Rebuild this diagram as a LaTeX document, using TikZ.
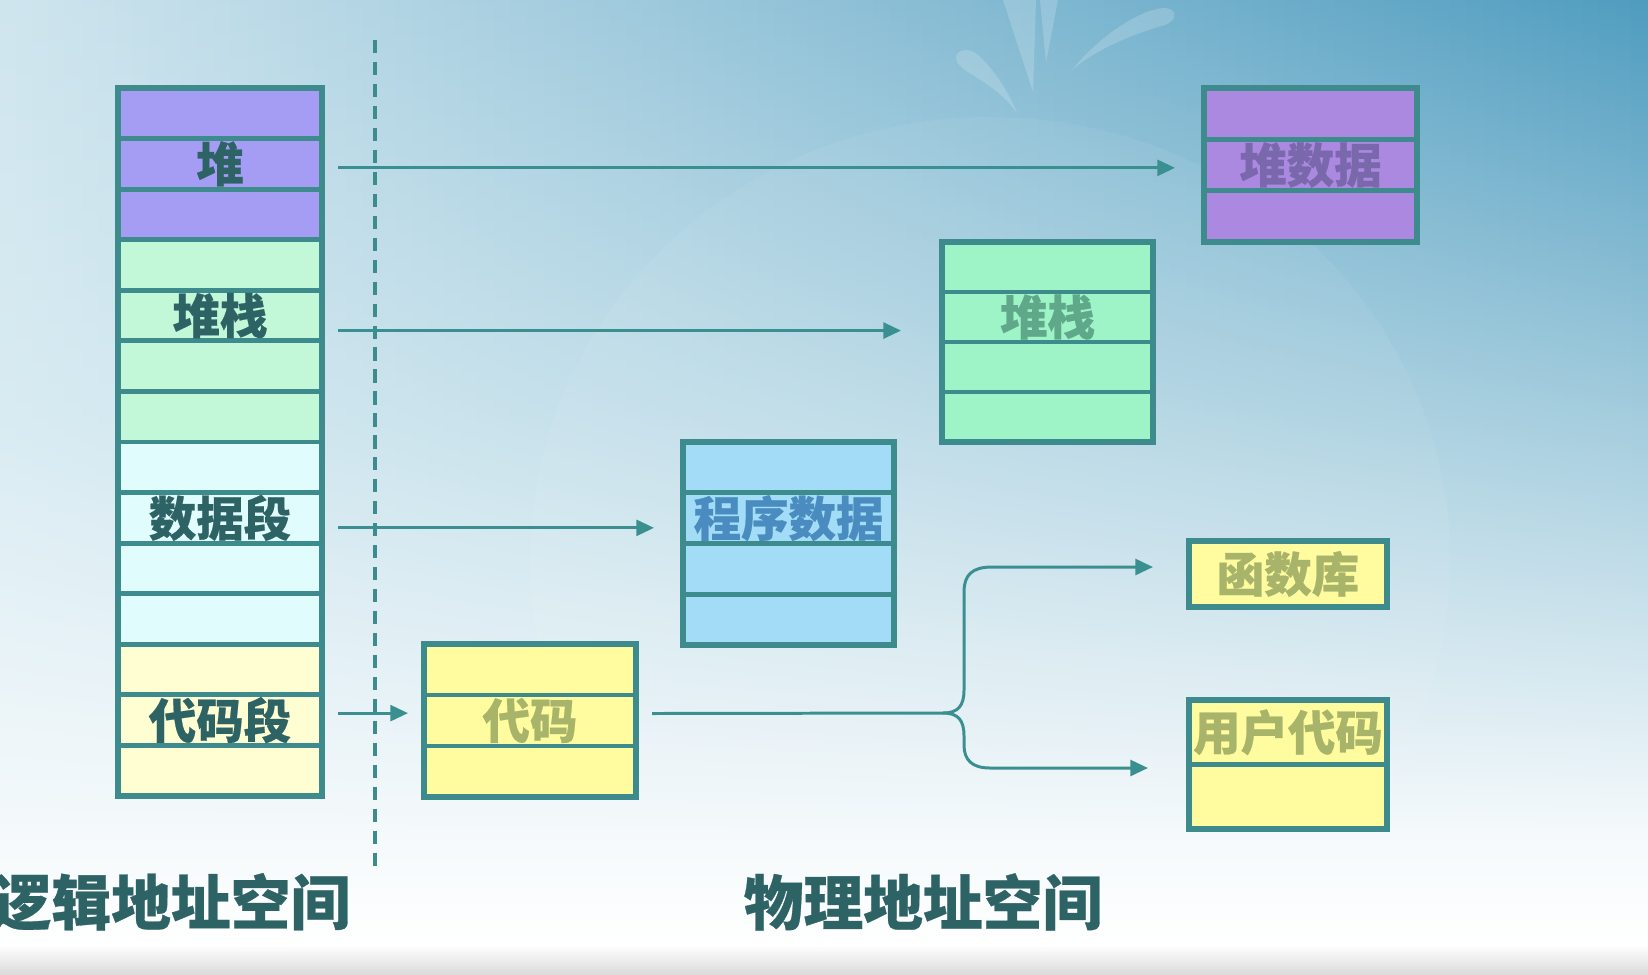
\documentclass[tikz,border=0pt]{standalone}
\usepackage{fontspec}
\newfontfamily\cjk{Noto Sans CJK SC}[BoldFeatures={FakeBold=0.5}]
\usetikzlibrary{arrows.meta}
\definecolor{bordc}{HTML}{3D8B8C}
\definecolor{purL}{HTML}{A59DF3}
\definecolor{grnL}{HTML}{C2F8D8}
\definecolor{cyaL}{HTML}{E0FCFD}
\definecolor{yelL}{HTML}{FFFDD2}
\definecolor{purR}{HTML}{AC89E1}
\definecolor{grnR}{HTML}{9EF3C7}
\definecolor{bluR}{HTML}{A2DCF7}
\definecolor{yelR}{HTML}{FFFC9F}
\definecolor{txtL}{HTML}{2E6366}
\definecolor{arrc}{HTML}{3A9090}
\definecolor{txtHeap}{HTML}{7A68AC}
\definecolor{txtStack}{HTML}{5FA88A}
\definecolor{txtData}{HTML}{4A8CC0}
\definecolor{txtCode}{HTML}{A7B46A}
\definecolor{topL}{HTML}{CFE5EE}
\definecolor{topR}{HTML}{4F9CBF}
\definecolor{midL}{HTML}{D8EBF2}
\definecolor{midR}{HTML}{A3CCDD}
\definecolor{botc}{HTML}{F4F9FB}
\def\pxu{0.02cm}
\tikzset{
  cell/.style={draw=bordc, line width=2.7pt, inner sep=0pt, outer sep=0pt},
  outerb/.style={draw=bordc, line width=3pt},
  lbl/.style={font=\cjk\bfseries\fontsize{27pt}{27pt}\selectfont, text=txtL, inner sep=0pt},
  biglbl/.style={font=\cjk\bfseries\fontsize{34pt}{34pt}\selectfont, text=txtL, inner sep=0pt},
  arr/.style={draw=arrc, line width=1.7pt, -{Triangle[length=10pt,width=9pt]}},
  conn/.style={draw=arrc, line width=1.7pt},
  divline/.style={draw=bordc, line width=2pt, dash pattern=on 7.5pt off 5pt},
  splash/.style={fill=white, opacity=0.18},
}
\begin{document}
\begin{tikzpicture}[x=0.02cm,y=-0.02cm]
\useasboundingbox (0,0) rectangle (1648,974);
% background
\foreach \i in {0,...,99}{
  \pgfmathtruncatemacro\p{100*\i/99}
  \shade[top color=topR!\p!topL, bottom color=botc, middle color=midR!\p!midL]
    ({16.48*\i},0) rectangle ({16.48*\i+17.5},830);
}
\fill[white, opacity=0.06] (990,560) ellipse [x radius=460, y radius=443];
\shade[top color=botc, bottom color=white] (0,829) rectangle (1648,946);
\shade[top color=white, bottom color=black!14] (0,945) rectangle (1648,974);
% splash
\fill[splash] (1017,113) .. controls (995,82) and (965,75) .. (957,62)
  .. controls (952,50) and (968,46) .. (978,55) .. controls (995,70) and (1010,95) .. (1017,113) -- cycle;
\fill[splash] (1072,70) .. controls (1100,35) and (1140,10) .. (1163,8)
  .. controls (1178,8) and (1178,20) .. (1165,25) .. controls (1130,35) and (1095,50) .. (1072,70) -- cycle;
\fill[splash] (1003,0) -- (1033,92) -- (1036,0) -- cycle;
\fill[splash] (1040,0) -- (1046,62) -- (1058,0) -- cycle;

% left stack
\foreach \i/\c in {1/purL,2/purL,3/purL,4/grnL,5/grnL,6/grnL,7/grnL,8/cyaL,9/cyaL,10/cyaL,11/cyaL,12/yelL,13/yelL,14/yelL}
  \node[cell, fill=\c, minimum width=204*\pxu, minimum height=50.57*\pxu] (L\i) at (220,{88+50.57*(\i-0.5)}) {};
\draw[outerb] (L1.north west) rectangle (L14.south east);
\node[lbl] (tL2) at (L2) {堆};
\node[lbl] (tL5) at (L5) {堆栈};
\node[lbl] (tL9) at (L9) {数据段};
\node[lbl] (tL13) at (L13) {代码段};

% heap data
\foreach \i in {1,2,3}
  \node[cell, fill=purR, minimum width=213*\pxu, minimum height=51.3*\pxu] (H\i) at (1310.5,{88+51.3*(\i-0.5)}) {};
\draw[outerb] (H1.north west) rectangle (H3.south east);
\node[lbl, text=txtHeap] (tH) at (H2) {堆数据};

% stack
\foreach \i in {1,...,4}
  \node[cell, fill=grnR, minimum width=211*\pxu, minimum height=50*\pxu] (S\i) at (1047.5,{242+50*(\i-0.5)}) {};
\draw[outerb] (S1.north west) rectangle (S4.south east);
\node[lbl, text=txtStack] (tS) at (S2) {堆栈};

% program data
\foreach \i in {1,...,4}
  \node[cell, fill=bluR, minimum width=211*\pxu, minimum height=50.75*\pxu] (D\i) at (788.5,{442+50.75*(\i-0.5)}) {};
\draw[outerb] (D1.north west) rectangle (D4.south east);
\node[lbl, text=txtData] (tD) at (D2) {程序数据};

% code
\foreach \i in {1,2,3}
  \node[cell, fill=yelR, minimum width=212*\pxu, minimum height=51*\pxu] (C\i) at (530,{644+51*(\i-0.5)}) {};
\draw[outerb] (C1.north west) rectangle (C3.south east);
\node[lbl, text=txtCode] (tC) at (C2) {代码};

% library
\node[cell, line width=3pt, fill=yelR, minimum width=198*\pxu, minimum height=66*\pxu] (F) at (1288,574) {};
\node[lbl, text=txtCode] (tF) at (F) {函数库};

% user code
\foreach \i in {1,2}
  \node[cell, fill=yelR, minimum width=198*\pxu, minimum height=64.5*\pxu] (U\i) at (1288,{700+64.5*(\i-0.5)}) {};
\draw[outerb] (U1.north west) rectangle (U2.south east);
\node[lbl, text=txtCode] (tU) at (U1) {用户代码};

% dashed divider
\coordinate (dt) at (375,40);
\coordinate (db) at (375,872);
\draw[divline] (dt) -- (db);

% arrows
\draw[arr, shorten <=16*\pxu, shorten >=29*\pxu] ([yshift=-4*\pxu]L2.east) -- ([yshift=-4*\pxu]L2.east -| H2.west);
\draw[arr, shorten <=16*\pxu, shorten >=41*\pxu] ([yshift=-15*\pxu]L5.east) -- ([yshift=-15*\pxu]L5.east -| S2.west);
\draw[arr, shorten <=16*\pxu, shorten >=29*\pxu] ([yshift=-10*\pxu]L9.east) -- ([yshift=-10*\pxu]L9.east -| D2.west);
\draw[arr, shorten <=16*\pxu, shorten >=16*\pxu] ([yshift=7*\pxu]L13.east) -- ([yshift=7*\pxu]L13.east -| C2.west);

% branch
\coordinate (br) at (943,713);
\draw[conn] ([xshift=16*\pxu,yshift=7*\pxu]C2.east) -- (br);
\draw[arr] (br) .. controls (958,713) and (964,706) .. (964,690) -- (964,592)
  .. controls (964,575) and (972,567) .. (992,567) -- ([xshift=-36*\pxu,yshift=7*\pxu]F.west);
\draw[arr] (br) .. controls (958,713) and (964,720) .. (964,736) -- (964,745)
  .. controls (964,760) and (972,768) .. (990,768) -- ([xshift=-41*\pxu,yshift=-3.5*\pxu]U1.south west);

% bottom labels
\node[biglbl] (lg) at (171,902) {逻辑地址空间};
\node[biglbl] (ph) at (923,902) {物理地址空间};
\end{tikzpicture}
\end{document}
